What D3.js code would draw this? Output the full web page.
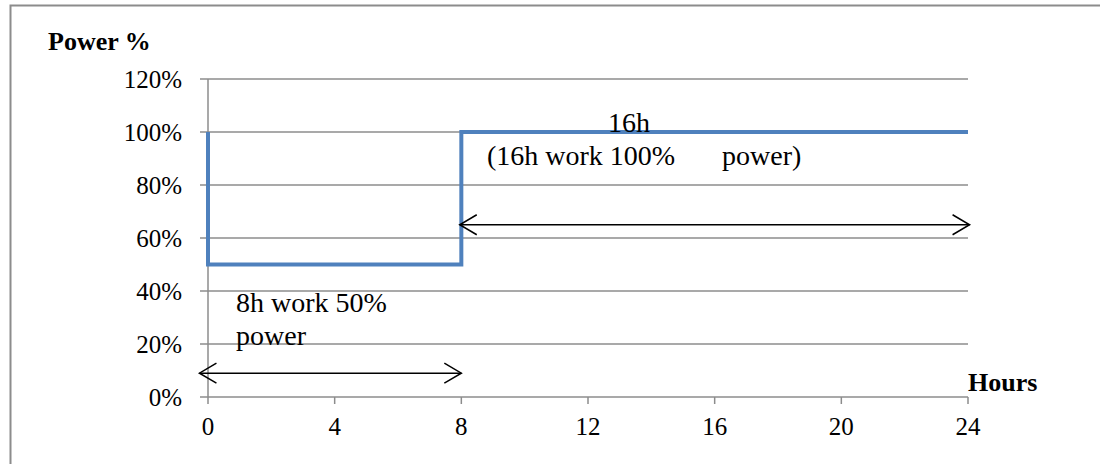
<!DOCTYPE html>
<html>
<head>
<meta charset="utf-8">
<script src="https://cdn.jsdelivr.net/npm/d3@7"></script>
<style>
  body { margin: 0; background: #fff; }
  svg text { font-family: "Liberation Serif", "Times New Roman", serif; fill: #000; }
</style>
</head>
<body>
<div id="chart"></div>
<script>
const hours = [0, 0, 8, 8, 24];
const power = [100, 50, 50, 100, 100];
const xTicks = [0, 4, 8, 12, 16, 20, 24];
const yTicks = [0, 20, 40, 60, 80, 100, 120];
// arrows spanning each work period: [fromHour, toHour, level %]
const spans = [[-0.27, 8, 9], [7.95, 24.05, 65]];

const width = 1100, height = 464;
const plotLeft = 208, plotRight = 968, plotTop = 79, plotBottom = 397;

const svg = d3.select('#chart').append('svg')
  .attr('width', width)
  .attr('height', height);

svg.append('rect')
  .attr('x', 10.5).attr('y', 5.5)
  .attr('width', 1200).attr('height', 600)
  .attr('fill', 'none')
  .attr('stroke', '#8c8c8c')
  .attr('stroke-width', 2);

const x = d3.scaleLinear().domain([0, 24]).range([plotLeft, plotRight]);
const y = d3.scaleLinear().domain([0, 120]).range([plotBottom, plotTop]);

// horizontal gridlines
svg.append('g')
  .selectAll('line')
  .data(yTicks)
  .enter().append('line')
  .attr('x1', plotLeft - 8).attr('x2', plotRight)
  .attr('y1', d => y(d)).attr('y2', d => y(d))
  .attr('stroke', '#8c8c8c')
  .attr('stroke-width', 1.5);

// y axis line
svg.append('line')
  .attr('x1', plotLeft).attr('x2', plotLeft)
  .attr('y1', y(120)).attr('y2', y(0))
  .attr('stroke', '#8c8c8c')
  .attr('stroke-width', 1.5);

// x tick marks
svg.append('g')
  .selectAll('line')
  .data(xTicks)
  .enter().append('line')
  .attr('x1', d => x(d)).attr('x2', d => x(d))
  .attr('y1', plotBottom).attr('y2', plotBottom + 7)
  .attr('stroke', '#8c8c8c')
  .attr('stroke-width', 1.5);

svg.append('g')
  .selectAll('text')
  .data(yTicks)
  .enter().append('text')
  .attr('x', plotLeft - 26)
  .attr('y', d => y(d) + 8.5)
  .attr('text-anchor', 'end')
  .attr('font-size', '25px')
  .text(d => d + '%');

svg.append('g')
  .selectAll('text')
  .data(xTicks)
  .enter().append('text')
  .attr('x', d => x(d))
  .attr('y', 435)
  .attr('text-anchor', 'middle')
  .attr('font-size', '25px')
  .text(d => d);

// power line
const line = d3.line()
  .x((d, i) => x(hours[i]))
  .y(d => y(d));
svg.append('path')
  .datum(power)
  .attr('d', line)
  .attr('fill', 'none')
  .attr('stroke', '#4f81bd')
  .attr('stroke-width', 4);

// double-headed arrows
spans.forEach(s => {
  const x1 = x(s[0]), x2 = x(s[1]), yy = y(s[2]);
  const g = svg.append('g')
    .attr('stroke', '#000')
    .attr('stroke-width', 1.5)
    .attr('fill', 'none');
  g.append('line').attr('x1', x1).attr('x2', x2).attr('y1', yy).attr('y2', yy);
  g.append('path').attr('d', `M${x1 + 17},${yy - 10}L${x1},${yy}L${x1 + 17},${yy + 10}`);
  g.append('path').attr('d', `M${x2 - 17},${yy - 10}L${x2},${yy}L${x2 - 17},${yy + 10}`);
});

// labels
svg.append('text')
  .attr('x', 48).attr('y', 50)
  .attr('font-size', '26px')
  .attr('font-weight', 'bold')
  .text('Power %');

svg.append('text')
  .attr('x', 968).attr('y', 391)
  .attr('font-size', '26px')
  .attr('font-weight', 'bold')
  .text('Hours');

svg.append('text')
  .attr('x', 236).attr('y', 312)
  .attr('font-size', '28px')
  .text('8h work 50%');
svg.append('text')
  .attr('x', 236).attr('y', 345)
  .attr('font-size', '28px')
  .text('power');

svg.append('text')
  .attr('x', 629).attr('y', 132)
  .attr('text-anchor', 'middle')
  .attr('font-size', '28px')
  .text('16h');
svg.append('text')
  .attr('x', 487).attr('y', 165)
  .attr('font-size', '28px')
  .text('(16h work 100%');
svg.append('text')
  .attr('x', 722).attr('y', 165)
  .attr('font-size', '28px')
  .text('power)');
</script>
</body>
</html>
